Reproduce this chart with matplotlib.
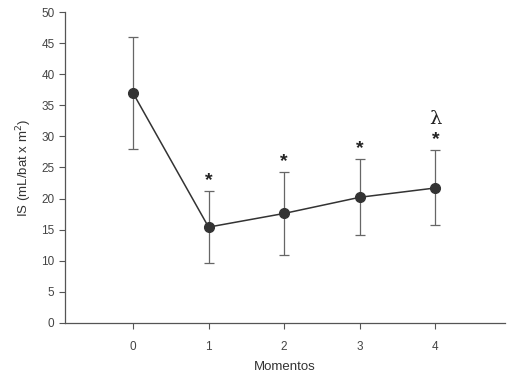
import matplotlib
matplotlib.use("Agg")
import matplotlib.pyplot as plt
import numpy as np

plt.rcParams['font.family'] = ['Liberation Sans', 'DejaVu Sans']

momentos = [0, 1, 2, 3, 4]
means = [37.0, 15.4, 17.6, 20.2, 21.7]
err_upper = [46.0, 21.2, 24.3, 26.3, 27.8]
err_lower = [28.0, 9.6, 10.9, 14.1, 15.7]
signif_star = [False, True, True, True, True]
signif_lambda = [False, False, False, False, True]

fig = plt.figure(figsize=(5.07, 3.78), dpi=100)
ax = fig.add_axes([0.128, 0.146, 0.868, 0.822])

m = np.array(means)
yerr = [m - np.array(err_lower), np.array(err_upper) - m]
ax.errorbar(momentos, means, yerr=yerr, fmt='-o', color='#333333', ecolor='#666666',
            elinewidth=0.9, capsize=3.5, capthick=0.9, markersize=7, linewidth=1.1,
            markerfacecolor='#333333', markeredgecolor='#333333')

for x, top, s, l in zip(momentos, err_upper, signif_star, signif_lambda):
    if s:
        ax.annotate('*', (x, top), xytext=(0, 1.5), textcoords='offset points',
                    ha='center', va='bottom', fontsize=14, color='#222222',
                    fontweight='bold')
    if l:
        ax.annotate('λ', (x, top), xytext=(0, 16), textcoords='offset points',
                    ha='center', va='bottom', fontsize=14, color='#222222',
                    family=['DejaVu Serif'])

ax.set_xlim(-0.9, 4.92)
ax.set_ylim(0, 50)
ax.set_yticks(range(0, 51, 5))
ax.set_xticks(momentos)
for sp in ['top', 'right']:
    ax.spines[sp].set_visible(False)
for sp in ['left', 'bottom']:
    ax.spines[sp].set_color('#555555')
    ax.spines[sp].set_linewidth(0.9)
ax.tick_params(axis='both', colors='#555555', labelcolor='#444444', labelsize=8.5, length=4, width=0.8)
ax.tick_params(axis='x', pad=9)
ax.set_xlabel('Momentos', fontsize=9.5, color='#333333', labelpad=6)
ax.set_ylabel('IS (mL/bat x m$^2$)', fontsize=9.5, color='#333333', labelpad=5)

fig.savefig('out.png', dpi=100)
